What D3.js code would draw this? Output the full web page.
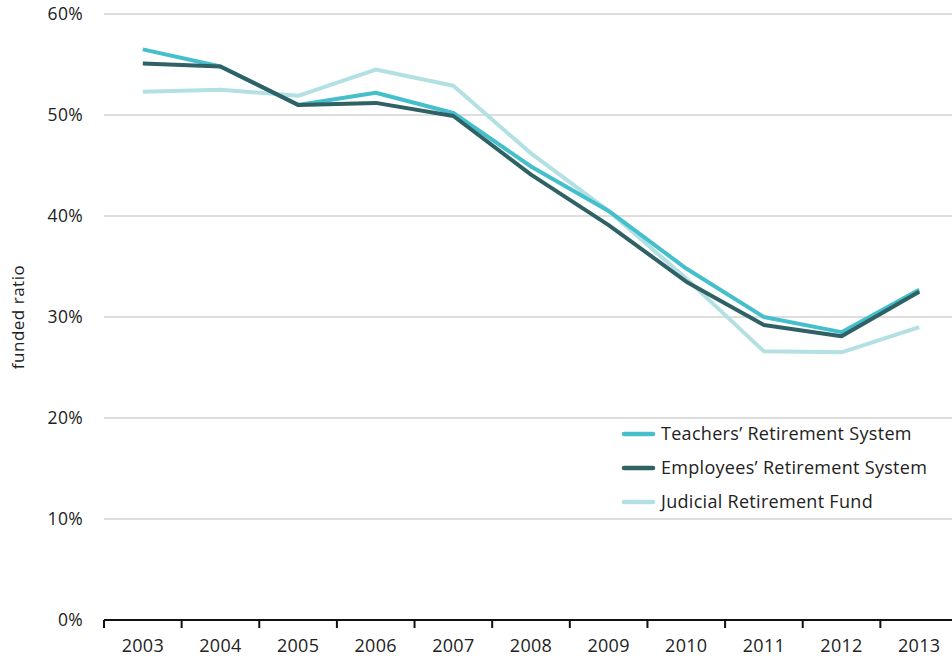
<!DOCTYPE html>
<html>
<head>
<meta charset="utf-8">
<script src="https://cdn.jsdelivr.net/npm/d3@7"></script>
<style>
  body { margin: 0; background: #fff; }
  svg text { font-family: "Open Sans", sans-serif; fill: #222; }
</style>
</head>
<body>
<div id="chart"></div>
<script>
// data (funded ratio, %)
const years = ["2003", "2004", "2005", "2006", "2007", "2008", "2009", "2010", "2011", "2012", "2013"];
const teachers = [56.5, 54.8, 51.0, 52.2, 50.2, 44.9, 40.5, 34.8, 30.0, 28.5, 32.7];
const employees = [55.1, 54.8, 51.0, 51.2, 49.9, 44.1, 39.1, 33.5, 29.2, 28.1, 32.5];
const judicial = [52.3, 52.5, 51.9, 54.5, 52.9, 46.2, 40.5, 33.8, 26.6, 26.5, 29.0];
const yTicks = [0, 10, 20, 30, 40, 50, 60];

const seriesNames = ["Teachers\u2019 Retirement System", "Employees\u2019 Retirement System", "Judicial Retirement Fund"];
const seriesValues = [teachers, employees, judicial];
const colors = ["#45bfcc", "#2f6165", "#b3e0e3"];

let width = 952,
  height = 658;

let svg = d3
  .select("#chart")
  .append("svg")
  .attr("width", width)
  .attr("height", height);

let x = d3.scaleBand().domain(years).range([104, 958]).padding(0); //band per year
let y = d3.scaleLinear().domain([0, 60]).range([620, 14]);

// gridlines
svg
  .selectAll(".grid")
  .data(yTicks.filter((d) => d > 0))
  .join("line")
  .attr("x1", 104)
  .attr("x2", width)
  .attr("y1", (d) => y(d))
  .attr("y2", (d) => y(d))
  .attr("stroke", "#d2d2d2")
  .attr("stroke-width", 1.5);

// y tick labels
svg
  .selectAll(".ylab")
  .data(yTicks)
  .join("text")
  .attr("x", 83)
  .attr("y", (d) => y(d) + 6)
  .attr("text-anchor", "end")
  .style("font-size", "17.5px")
  .style("letter-spacing", "0.3px")
  .text((d) => d + "%");

// y axis title
svg
  .append("text")
  .attr("transform", `translate(24,${y(30)}) rotate(-90)`)
  .attr("text-anchor", "middle")
  .style("font-size", "17px")
  .style("letter-spacing", "0.5px")
  .text("funded ratio");

// x axis with ticks on band boundaries
let xAxis = svg.append("g").attr("transform", `translate(0,${y(0)})`);
xAxis
  .append("line")
  .attr("x1", 104)
  .attr("x2", width)
  .attr("stroke", "#111")
  .attr("stroke-width", 2);
xAxis
  .selectAll(".tick")
  .data(years)
  .join("line")
  .attr("x1", (d) => x(d))
  .attr("x2", (d) => x(d))
  .attr("y1", 0)
  .attr("y2", 8)
  .attr("stroke", "#111")
  .attr("stroke-width", 2);
xAxis
  .selectAll(".xlab")
  .data(years)
  .join("text")
  .attr("x", (d) => x(d) + x.bandwidth() / 2)
  .attr("y", 32)
  .attr("text-anchor", "middle")
  .style("font-size", "18px")
  .style("letter-spacing", "0.3px")
  .text((d) => d);

// lines, judicial drawn first so the others sit on top
let line = d3
  .line()
  .x((d, i) => x(years[i]) + x.bandwidth() / 2)
  .y((d) => y(d));

[2, 0, 1].forEach((k) => {
  svg
    .append("path")
    .datum(seriesValues[k])
    .attr("d", line)
    .attr("fill", "none")
    .attr("stroke", colors[k])
    .attr("stroke-width", 4)
    .attr("stroke-linejoin", "round");
});

// legend
let legend = svg
  .selectAll(".legend")
  .data(seriesNames)
  .join("g")
  .attr("transform", (d, i) => `translate(624,${434 + i * 34})`);
legend
  .append("line")
  .attr("x1", 0)
  .attr("x2", 29)
  .attr("stroke", (d, i) => colors[i])
  .attr("stroke-width", 4.5)
  .attr("stroke-linecap", "round");
legend
  .append("text")
  .attr("x", 37)
  .attr("y", 6)
  .style("font-size", "18px")
  .style("letter-spacing", "0.3px")
  .text((d) => d);
</script>
</body>
</html>
